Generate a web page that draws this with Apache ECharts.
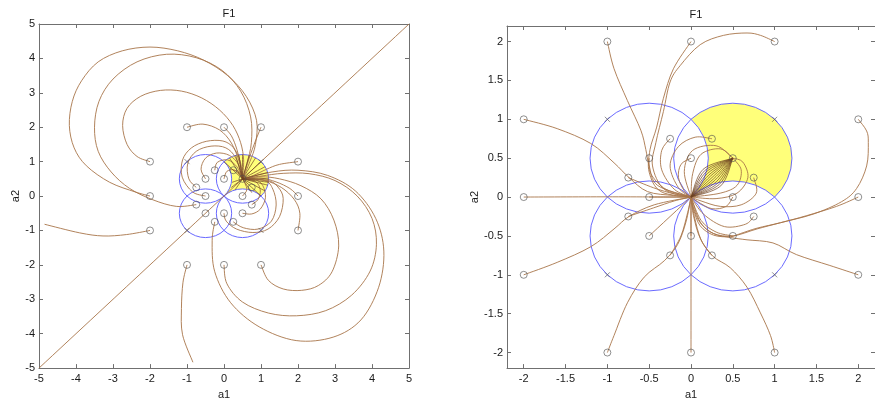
<!DOCTYPE html>
<html><head><meta charset="utf-8">
<script src="https://cdn.jsdelivr.net/npm/echarts@6/dist/echarts.min.js"></script>
<style>html,body{margin:0;padding:0;background:#fff}#c{width:875px;height:405px}</style>
</head><body><div id="c"></div>
<script>
// ---------- tick labels ----------
const leftTicks = [-5,-4,-3,-2,-1,0,1,2,3,4,5];
const rightTicks = [-2,-1.5,-1,-0.5,0,0.5,1,1.5,2];

// ---------- start points (o) and crosses (x) ----------
const outerStarts = [[-1,2],[0,2],[1,2],[-2,1],[2,1],[-2,0],[2,0],[-2,-1],[2,-1],[-1,-2],[0,-2],[1,-2]];
const innerStarts = [[-0.25,0.75],[0.25,0.75],[-0.5,0.5],[0,0.5],[0.5,0.5],[-0.75,0.25],[0.75,0.25],[-0.5,0],[0.5,0],
  [-0.75,-0.25],[0.75,-0.25],[-0.5,-0.5],[0,-0.5],[0.5,-0.5],[-0.25,-0.75],[0.25,-0.75]];
const crossPoints = [[-1,1],[1,1],[-1,-1],[1,-1]];

// ---------- circles ----------
const circleCenters = [[-0.5,0.5],[0.5,0.5],[-0.5,-0.5],[0.5,-0.5]];
const circleRadius = 0.707;
const basinCircle = [[0.5,0.5]];
const basinCuts = [[-0.5,0.5],[0.5,-0.5]];

// ---------- left panel trajectories ----------
const leftDiagonal = [[-5,-5],[5,5]];
const leftBigArcs = [
  [[-2,0],[-2.4,0.12],[-3.09,0.4],[-3.72,0.88],[-4.05,1.4],[-4.18,2.05],[-4.1,2.75],[-3.85,3.35],[-3.4,3.9],[-2.75,4.22],[-2.0,4.33],[-1.25,4.22],[-0.55,3.95],[0.1,3.5],[0.6,2.9],[0.88,2.2],[0.85,1.5],[0.7,1.0],[0.5,0.5]],
  [[-0.75,-0.25],[-1.29,-0.3],[-1.92,-0.11],[-2.55,0.22],[-3.05,0.7],[-3.4,1.3],[-3.5,2.0],[-3.38,2.75],[-3.0,3.4],[-2.35,3.9],[-1.55,4.12],[-0.75,4.02],[-0.05,3.65],[0.45,3.05],[0.72,2.3],[0.74,1.55],[0.62,0.95],[0.5,0.5]],
  [[-2,1],[-2.35,1.15],[-2.62,1.5],[-2.74,2.05],[-2.62,2.55],[-2.25,2.9],[-1.72,3.07],[-1.15,3.05],[-0.6,2.85],[-0.12,2.5],[0.24,2.05],[0.45,1.55],[0.53,1.05],[0.5,0.5]],
  [[1,-2],[1.2,-2.45],[1.6,-2.7],[2.1,-2.74],[2.55,-2.6],[2.92,-2.2],[3.1,-1.45],[2.97,-0.7],[2.62,-0.08],[2.08,0.3],[1.5,0.5],[1.0,0.56],[0.5,0.5]],
  [[0,-2],[0.08,-2.55],[0.5,-3.08],[1.2,-3.4],[1.96,-3.48],[2.75,-3.33],[3.45,-2.88],[3.95,-2.18],[4.12,-1.4],[4.0,-0.65],[3.6,0.0],[3.0,0.45],[2.3,0.65],[1.6,0.66],[1.0,0.58],[0.5,0.5]],
  [[-0.25,-0.75],[-0.32,-1.3],[-0.25,-2.2],[0.18,-3.1],[0.95,-3.8],[1.95,-4.2],[2.95,-4.1],[3.7,-3.6],[4.18,-2.65],[4.32,-1.6],[4.1,-0.65],[3.55,0.15],[2.8,0.6],[2.0,0.75],[1.3,0.7],[0.5,0.5]]
];
const leftSidePaths = [
  [[2,1],[1.5,0.92],[1.15,0.78],[0.8,0.6],[0.5,0.5]],
  [[2,0],[1.78,0.22],[1.41,0.41],[1.0,0.52],[0.5,0.5]],
  [[2,-1],[2.05,-0.5],[1.9,-0.1],[1.55,0.25],[1.1,0.45],[0.5,0.5]],
  [[-1,2],[-0.57,2.09],[-0.12,1.92],[0.2,1.54],[0.42,0.97],[0.5,0.5]],
  [[0,2],[0.2,1.75],[0.35,1.35],[0.45,0.9],[0.5,0.5]],
  [[1,2],[0.85,1.6],[0.68,1.1],[0.5,0.5]],
  [[-2,-1],[-2.64,-1.12],[-3.27,-1.16],[-3.9,-1.07],[-4.85,-0.82]],
  [[-1,-2],[-1.11,-2.52],[-1.15,-3.27],[-1.12,-4.03],[-0.84,-4.83]]
];
const leftLoops = [
  [[-0.5,0],[-0.85,0.12],[-1.13,0.55],[-1.12,1.05],[-0.88,1.4],[-0.48,1.59],[-0.03,1.6],[0.26,1.4],[0.44,1.0],[0.5,0.5]],
  [[-0.75,0.25],[-0.95,0.5],[-0.98,0.95],[-0.75,1.3],[-0.35,1.45],[0.05,1.4],[0.32,1.1],[0.5,0.5]],
  [[-0.5,0.5],[-0.62,0.78],[-0.5,1.1],[-0.2,1.25],[0.15,1.18],[0.4,0.9],[0.5,0.5]],
  [[-0.25,0.75],[-0.18,0.98],[0.1,1.05],[0.35,0.85],[0.5,0.5]],
  [[0,0.5],[0.08,0.72],[0.3,0.75],[0.5,0.5]],
  [[0.25,0.75],[0.4,0.7],[0.5,0.5]],
  [[0,-0.5],[0.06,-0.73],[0.34,-0.96],[0.78,-1.06],[1.19,-0.96],[1.5,-0.6],[1.6,-0.07],[1.46,0.26],[1.19,0.45],[0.5,0.5]],
  [[0.25,-0.75],[0.52,-0.92],[0.92,-0.96],[1.28,-0.73],[1.41,-0.26],[1.32,0.2],[1.1,0.45],[0.5,0.5]],
  [[0.5,-0.5],[0.75,-0.52],[0.98,-0.38],[1.12,-0.05],[1.05,0.3],[0.85,0.48],[0.5,0.5]],
  [[0.75,-0.25],[0.92,-0.1],[0.98,0.18],[0.85,0.42],[0.5,0.5]],
  [[0.5,0],[0.62,0.2],[0.5,0.5]]
];
const leftFanHub = [0.5,0.5];
const leftFanEnds = [[0,1],[0.146,1.112],[0.317,1.183],[0.5,1.207],[0.683,1.183],[0.854,1.112],[1,1],[1.112,0.854],
  [1.183,0.683],[1.207,0.5],[1.183,0.317],[1.112,0.146],[1,0],[0.2,0.25],[0.3,0.18],[0.22,0.4],[0.75,0.1],[0.4,1.2],[1.2,0.4]];

// ---------- right panel trajectories ----------
const rightOuterPaths = [
  [[-2,1],[-1.6,0.88],[-1.2,0.69],[-0.92,0.44],[-0.74,0.25],[-0.52,0.07],[-0.21,0.02],[0,0]],
  [[-2,0],[-1,0.003],[0,0]],
  [[-2,-1],[-1.6,-0.84],[-1.2,-0.64],[-0.92,-0.41],[-0.74,-0.25],[-0.44,-0.1],[0,0]],
  [[-1,2],[-0.92,1.65],[-0.76,1.24],[-0.6,0.86],[-0.54,0.61],[-0.5,0.4],[-0.4,0.15],[0,0]],
  [[0,2],[-0.21,1.65],[-0.33,1.27],[-0.41,0.9],[-0.49,0.61],[-0.5,0.32],[-0.36,0.07],[0,0]],
  [[1,2],[0.83,2.08],[0.67,2.11],[0.39,2.08],[0.11,1.96],[-0.13,1.69],[-0.25,1.48],[-0.33,1.1],[-0.42,0.7],[-0.46,0.4],[-0.32,0.1],[0,0]],
  [[2,1],[2.1,0.85],[2.12,0.7],[2.1,0.4],[1.98,0.11],[1.8,-0.06],[1.46,-0.22],[1.07,-0.33],[0.79,-0.41],[0.5,-0.5],[0.27,-0.47],[0.11,-0.33],[0.03,-0.14],[0,0]],
  [[2,0],[1.74,-0.12],[1.38,-0.24],[1.07,-0.33],[0.79,-0.4],[0.59,-0.47],[0.47,-0.51],[0.27,-0.49],[0.11,-0.37],[0.03,-0.16],[0,0]],
  [[2,-1],[1.66,-0.88],[1.26,-0.74],[0.98,-0.59],[0.67,-0.55],[0.47,-0.52],[0.27,-0.47],[0.11,-0.32],[0,0]],
  [[1,-2],[0.95,-1.78],[0.83,-1.49],[0.67,-1.16],[0.47,-0.91],[0.26,-0.76],[0.11,-0.53],[0.03,-0.24],[0,0]],
  [[0,-2],[0,0]],
  [[-1,-2],[-0.92,-1.78],[-0.76,-1.36],[-0.56,-1.03],[-0.32,-0.82],[-0.16,-0.61],[-0.06,-0.32],[0,0]]
];
const rightInnerPaths = [
  [[-0.25,0.75],[-0.35,0.6],[-0.35,0.35],[-0.2,0.1],[0,0]],
  [[0.25,0.75],[0.05,0.77],[-0.15,0.65],[-0.25,0.4],[-0.15,0.12],[0,0]],
  [[0,0.5],[-0.12,0.42],[-0.15,0.25],[-0.08,0.08],[0,0]],
  [[-0.5,0.5],[-0.48,0.3],[-0.3,0.1],[0,0]],
  [[-0.75,0.25],[-0.45,0.12],[-0.2,0.04],[0,0]],
  [[-0.5,0],[0,0]],
  [[-0.75,-0.25],[-0.45,-0.14],[-0.2,-0.05],[0,0]],
  [[-0.5,-0.5],[0,0]],
  [[-0.25,-0.75],[-0.12,-0.5],[-0.04,-0.2],[0,0]],
  [[0,-0.5],[0,0]],
  [[0.25,-0.75],[0.12,-0.55],[0.04,-0.25],[0,0]],
  [[0.5,-0.5],[0.3,-0.45],[0.12,-0.3],[0,0]],
  [[0.75,-0.25],[0.65,-0.35],[0.4,-0.38],[0.15,-0.22],[0,0]],
  [[0.5,0],[0.42,-0.12],[0.25,-0.15],[0.08,-0.06],[0,0]],
  [[0.75,0.25],[0.78,0.05],[0.6,-0.1],[0.35,-0.12],[0.12,-0.05],[0,0]],
  [[0.5,0.5],[0.6,0.35],[0.55,0.15],[0.35,0.05],[0,0]],
  [[0.5,0.5],[0.35,0.62],[0.12,0.55],[0.02,0.3],[0,0]],
  [[0.5,0.5],[0.3,0.66],[0.02,0.6],[-0.08,0.33],[0,0]],
  [[0.5,0.5],[0.62,0.45],[0.68,0.25],[0.55,0.05],[0.3,-0.02],[0,0]]
];
const rightLensEnds = [[0,0],[0.5,0.5]];
const rightLensMids = [[0.144,0.356],[0.162,0.338],[0.179,0.321],[0.197,0.303],[0.215,0.285],[0.232,0.268],[0.25,0.25],
  [0.268,0.232],[0.285,0.215],[0.303,0.197],[0.321,0.179],[0.338,0.162],[0.356,0.144]];

// ---------- styling ----------
const FONT = 'Liberation Sans, Arial, sans-serif';
const BROWN = '#a8754a';
const DARK = '#6e4220';
const BLUE = '#6464ff';
const AXIS = '#707070';

// smooth curve through the read points (Catmull-Rom in screen space, via the axes)
function splineItem(color, width) {
  return function(params, api) {
    const i = params.dataIndexInside, n = params.dataInsideLength;
    if (i >= n - 1) return null;
    const P = k => { const kk = Math.max(0, Math.min(n - 1, k)); return api.coord([api.value(0, kk), api.value(1, kk)]); };
    const p0 = P(i - 1), p1 = P(i), p2 = P(i + 1), p3 = P(i + 2);
    const t = 1 / 6;
    return {type:'bezierCurve', shape:{
        x1:p1[0], y1:p1[1], x2:p2[0], y2:p2[1],
        cpx1:p1[0] + (p2[0] - p0[0]) * t, cpy1:p1[1] + (p2[1] - p0[1]) * t,
        cpx2:p2[0] - (p3[0] - p1[0]) * t, cpy2:p2[1] - (p3[1] - p1[1]) * t},
      style:{stroke:color, lineWidth:width, fill:'none'}};
  };
}
function pathSeries(paths, gi, color, width, z) {
  return paths.map(p => ({
    type:'custom', xAxisIndex: gi*2, yAxisIndex: gi*2, data: p, encode:{x:0, y:1},
    renderItem: splineItem(color, width), z, silent:true, animation:false, clip:true
  }));
}
function diskItem(fill, stroke) {
  return function(params, api) {
    const cx = api.value(0), cy = api.value(1), r = circleRadius;
    const c = api.coord([cx, cy]);
    const ex = api.coord([cx + r, cy]);
    const ey = api.coord([cx, cy + r]);
    const rx = Math.abs(ex[0] - c[0]), ry = Math.abs(ey[1] - c[1]);
    return {type:'circle', x:c[0], y:c[1], scaleX:1, scaleY: ry/rx,
      shape:{cx:0, cy:0, r:rx},
      style:{fill: fill, stroke: stroke, lineWidth:1, strokeNoScale:true}};
  };
}
function diskSeries(data, gi, fill, stroke, z) {
  return {type:'custom', xAxisIndex: gi*2, yAxisIndex: gi*2, data, encode:{x:0,y:1},
    renderItem: diskItem(fill, stroke), z, silent:true, animation:false, clip:true};
}
function markerSeries(gi) {
  return [
    {type:'scatter', xAxisIndex: gi*2, yAxisIndex: gi*2, data: outerStarts.concat(innerStarts), symbol:'circle', symbolSize:7,
      itemStyle:{color:'rgba(0,0,0,0)', borderColor:'#505050', borderWidth:0.8}, z:10, silent:true, animation:false},
    {type:'scatter', xAxisIndex: gi*2, yAxisIndex: gi*2, data: crossPoints, symbol:'path://M0,0L10,10M10,0L0,10', symbolSize:5,
      itemStyle:{color:'rgba(0,0,0,0)', borderColor:'#505050', borderWidth:0.8}, z:10, silent:true, animation:false}
  ];
}
function axisPair(gi, min, max, ticks, isX, nameGap) {
  const base = {
    gridIndex: gi, type:'value', min, max,
    axisLine:{show:true, onZero:false, lineStyle:{color:AXIS, width:1}},
    axisTick:{show:true, inside:true, length:4, customValues: ticks, lineStyle:{color:AXIS}},
    splitLine:{show:false}
  };
  const main = Object.assign({}, base, {
    position: isX ? 'bottom' : 'left',
    axisLabel:{show:true, customValues: ticks, color:'#1a1a1a', fontSize:11, fontFamily:FONT, margin: isX ? 5 : 4},
    name: isX ? 'a1' : 'a2', nameLocation:'middle', nameGap,
    nameTextStyle:{color:'#1a1a1a', fontSize:11, fontFamily:FONT}
  });
  const other = Object.assign({}, base, {position: isX ? 'top' : 'right', axisLabel:{show:false}});
  return [main, other];
}

const chart = echarts.init(document.getElementById('c'), null, {renderer:'canvas'});
const series = [];
// left panel (grid 0)
series.push(diskSeries(basinCircle, 0, '#ffff7a', 'none', 1));
series.push(diskSeries(basinCuts, 0, '#ffffff', 'none', 2));
series.push(diskSeries(circleCenters, 0, 'none', BLUE, 4));
series.push(...pathSeries([leftDiagonal], 0, BROWN, 0.9, 5));
series.push(...pathSeries(leftBigArcs, 0, BROWN, 0.9, 5));
series.push(...pathSeries(leftSidePaths, 0, BROWN, 0.9, 5));
series.push(...pathSeries(leftLoops, 0, BROWN, 0.9, 5));
series.push(...pathSeries(leftFanEnds.map(e => [leftFanHub, e]), 0, DARK, 0.7, 6));
series.push(...markerSeries(0));
// right panel (grid 1)
series.push(diskSeries(basinCircle, 1, '#ffff7a', 'none', 1));
series.push(diskSeries(basinCuts, 1, '#ffffff', 'none', 2));
series.push(diskSeries(circleCenters, 1, 'none', BLUE, 4));
series.push(...pathSeries(rightOuterPaths, 1, BROWN, 0.9, 5));
series.push(...pathSeries(rightInnerPaths, 1, BROWN, 0.9, 5));
series.push(...pathSeries(rightLensMids.map(m => [rightLensEnds[0], m, rightLensEnds[1]]), 1, DARK, 0.7, 6));
series.push(...markerSeries(1));

const lx = axisPair(0, -5, 5, leftTicks, true, 19);
const ly = axisPair(0, -5, 5, leftTicks, false, 17);
const rx = axisPair(1, -2.2, 2.2, rightTicks, true, 19);
const ry = axisPair(1, -2.2, 2.2, rightTicks, false, 26);

chart.setOption({
  animation:false,
  backgroundColor:'#ffffff',
  textStyle:{fontFamily:FONT},
  title:[
    {text:'F1', left:224, top:3, textAlign:'center', textStyle:{fontSize:11, fontWeight:'normal', color:'#1a1a1a', fontFamily:FONT}},
    {text:'F1', left:691, top:4, textAlign:'center', textStyle:{fontSize:11, fontWeight:'normal', color:'#1a1a1a', fontFamily:FONT}}
  ],
  grid:[
    {left:39, top:24, width:370, height:353.5},
    {left:507, top:26, width:368, height:353}
  ],
  xAxis:[lx[0], lx[1], rx[0], rx[1]],
  yAxis:[ly[0], ly[1], ry[0], ry[1]],
  series
});
</script>
</body></html>
